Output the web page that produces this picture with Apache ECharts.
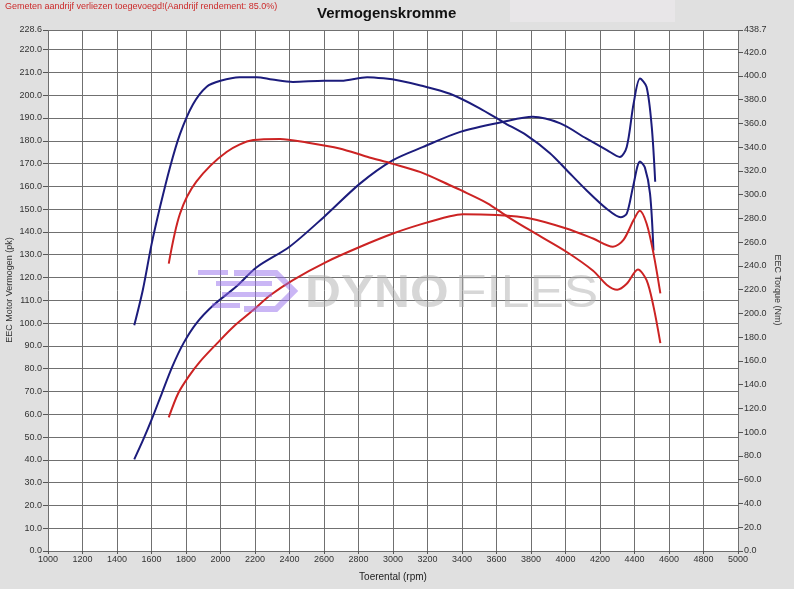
<!DOCTYPE html>
<html>
<head>
<meta charset="utf-8">
<script src="https://cdn.jsdelivr.net/npm/echarts@6/dist/echarts.min.js"></script>
<style>
  html, body { margin: 0; padding: 0; background: #e0e0e0; }
  #chart { width: 794px; height: 589px; }
</style>
</head>
<body>
<div id="chart"></div>
<script>
// blue = gemeten, red = tweede run; [rpm, waarde]
const bluePower = [
  [1500, 40.2], [1550, 48.5], [1600, 57.5], [1660, 69.2], [1720, 80.8], [1785, 91.1],
  [1860, 99.9], [1960, 107.9], [2090, 115.9], [2210, 124.5], [2400, 133.5], [2600, 146.6],
  [2810, 161.3], [3000, 171.5], [3175, 177.3], [3390, 183.9], [3640, 188.3], [3810, 190.5],
  [3970, 187.6], [4120, 181], [4240, 175.9], [4315, 172.9], [4355, 177.3], [4395, 196.4],
  [4432, 207.3], [4470, 203.6], [4500, 186.1], [4520, 162]
]
const blueTorque = [
  [1500, 190], [1550, 220], [1600, 258], [1650, 290], [1707, 323], [1765, 351],
  [1840, 376], [1920, 391], [2000, 396], [2110, 399], [2210, 399], [2300, 397],
  [2420, 395], [2600, 396], [2700, 396], [2850, 399], [2945, 398], [3040, 396],
  [3160, 392], [3330, 385], [3500, 373], [3640, 361], [3775, 350], [3910, 335],
  [4005, 321], [4120, 304], [4240, 288], [4320, 281], [4355, 284], [4392, 307],
  [4432, 328], [4460, 323], [4490, 301], [4510, 253]
]
const redPower = [
  [1700, 58.6], [1755, 69.2], [1815, 76.5], [1880, 83], [1980, 91.1], [2075, 98.4],
  [2190, 105.7], [2290, 112.3], [2420, 118.9], [2615, 126.9], [2810, 133.5], [3000, 139.3],
  [3160, 143.3], [3330, 146.9], [3405, 147.8], [3600, 147.4], [3795, 145.9], [4005, 141.5],
  [4160, 137.1], [4275, 133.5], [4335, 136.4], [4395, 145.2], [4430, 149.3], [4470, 143.7],
  [4510, 130.6], [4550, 113]
]
const redTorque = [
  [1700, 242], [1765, 284], [1860, 311], [2035, 336], [2190, 346], [2345, 347],
  [2500, 344], [2690, 339], [2850, 332], [3000, 326], [3160, 319], [3330, 308],
  [3390, 304], [3545, 293], [3670, 281], [3830, 267], [4005, 252], [4160, 236],
  [4240, 224], [4300, 220], [4355, 225], [4420, 237], [4470, 228], [4510, 206],
  [4550, 175]
]

const font = 'Liberation Sans'
const chart = echarts.init(document.getElementById('chart'))

function line (data, color, axis) {
  return {
    type: 'line',
    yAxisIndex: axis,
    data: data,
    smooth: 0.3,
    showSymbol: false,
    lineStyle: { color: color, width: 2 },
    z: 3
  }
}

const wm = 'rgba(175,175,175,0.5)'
const logo = 'rgba(150,110,235,0.5)'

let option = {
  backgroundColor: '#e0e0e0',
  animation: false,
  title: {
    text: 'Vermogenskromme',
    left: 312,
    top: 1,
    textStyle: { fontFamily: font, fontSize: 15, fontWeight: 'bold', color: '#111' }
  },
  graphic: [
    { type: 'rect', shape: { x: 510, y: 0, width: 165, height: 22 }, style: { fill: '#e8e6e8' }, z: -1 },
    {
      type: 'text', left: 5, top: 2,
      style: { text: 'Gemeten aandrijf verliezen toegevoegd!(Aandrijf rendement: 85.0%)', fill: '#cc2a2a', font: '9px ' + font }
    },
    // asnamen
    {
      type: 'text', x: 10, y: 290, rotation: Math.PI / 2,
      style: { text: 'EEC Motor Vermogen (pk)', fill: '#333', font: '9px ' + font, align: 'center', verticalAlign: 'middle' }
    },
    {
      type: 'text', x: 777, y: 290, rotation: -Math.PI / 2,
      style: { text: 'EEC Torque (Nm)', fill: '#333', font: '9px ' + font, align: 'center', verticalAlign: 'middle' }
    },
    // watermark
    { type: 'text', x: 305, y: 271, scaleX: 1.08, z: 10, style: { text: 'DYNO', fill: wm, font: 'bold 46px ' + font } },
    { type: 'text', x: 455, y: 271, scaleX: 1.12, z: 10, style: { text: 'FILES', fill: wm, font: '46px ' + font } },
    { type: 'polyline', z: 10, shape: { points: [[234, 273], [276, 273], [294, 291], [276, 309], [244, 309]] }, style: { stroke: logo, lineWidth: 6, fill: null } },
    { type: 'rect', z: 10, shape: { x: 198, y: 270, width: 30, height: 5 }, style: { fill: logo } },
    { type: 'rect', z: 10, shape: { x: 216, y: 281, width: 56, height: 5 }, style: { fill: logo } },
    { type: 'rect', z: 10, shape: { x: 222, y: 292, width: 50, height: 5 }, style: { fill: logo } },
    { type: 'rect', z: 10, shape: { x: 212, y: 303, width: 28, height: 5 }, style: { fill: logo } }
  ],
  grid: {
    left: 48,
    right: 56,
    top: 30,
    bottom: 38,
    outerBoundsMode: 'none',
    containLabel: false,
    show: true,
    backgroundColor: '#ffffff',
    borderWidth: 0
  },
  xAxis: {
    type: 'value',
    min: 1000,
    max: 5000,
    interval: 200,
    name: 'Toerental (rpm)',
    nameLocation: 'middle',
    nameGap: 21,
    nameTextStyle: { fontFamily: font, fontSize: 10, color: '#222' },
    axisLine: { show: false },
    axisTick: { show: true, length: 3, lineStyle: { color: '#555' } },
    axisLabel: { fontFamily: font, fontSize: 9, color: '#333', margin: 4, formatter: v => String(v) },
    splitLine: { show: true, lineStyle: { color: '#707070', width: 1 } }
  },
  yAxis: [
    {
      type: 'value',
      min: 0,
      max: 228.6,
      interval: 10,
      position: 'left',
      axisLine: { show: false },
      axisTick: { show: true, length: 5, lineStyle: { color: '#555' } },
      axisLabel: { fontFamily: font, fontSize: 9, color: '#333', margin: 6, formatter: v => v.toFixed(1) },
      splitLine: { show: true, lineStyle: { color: '#707070', width: 1 } }
    },
    {
      type: 'value',
      min: 0,
      max: 438.7,
      interval: 20,
      position: 'right',
      axisLine: { show: false },
      axisTick: { show: true, length: 5, lineStyle: { color: '#555' } },
      axisLabel: { fontFamily: font, fontSize: 9, color: '#333', margin: 6, formatter: v => v.toFixed(1) },
      splitLine: { show: false }
    }
  ],
  series: [
    line(blueTorque, '#1c1c7c', 1),
    line(bluePower, '#1c1c7c', 0),
    line(redTorque, '#cc2323', 1),
    line(redPower, '#cc2323', 0)
  ]
}
chart.setOption(option)
</script>
</body>
</html>
